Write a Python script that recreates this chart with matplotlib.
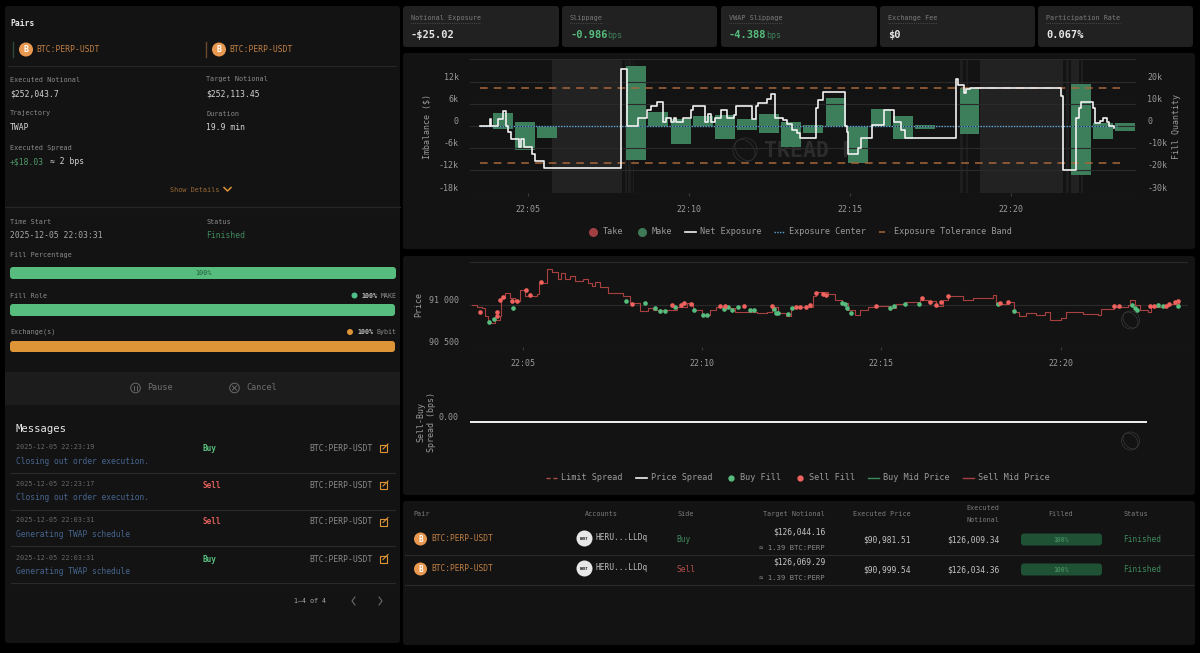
import matplotlib
matplotlib.use('Agg')
import matplotlib.pyplot as plt
from matplotlib.lines import Line2D
from matplotlib.patches import Circle, Ellipse, FancyBboxPatch, Rectangle

plt.rcParams['font.family'] = ['DejaVu Sans Mono', 'Liberation Mono']
plt.rcParams['axes.unicode_minus'] = False

W = 1200
H = 653

# times are minutes after 22:00
# fill quantity bars (right axis), each bar runs from low to high
bar_start = [3.90, 4.59, 5.28, 8.04, 8.73, 9.43, 10.11, 10.80, 11.49, 12.18, 12.87,
             13.55, 14.25, 14.94, 15.64, 16.33, 17.01, 18.40, 21.85, 22.54, 23.22]
bar_high = [6000, 2000, 0, 27000, 6500, 3000, 4500, 5000, 3000, 5400, 2000,
            400, 12500, 0, 7600, 4500, 500, 17000, 18800, 1200, 1400]
bar_low = [-1500, -11000, -5500, -15300, 0, -8000, 0, -6000, -2000, -3000, -9300,
           -3000, 0, -16500, 0, -5800, -1300, -3700, -22000, -6000, -2200]

# net exposure step line in $k
exposure_t = [3.51, 3.82, 3.86, 4.08, 4.21, 4.32, 4.39, 4.47, 4.73, 4.77, 4.88, 5.13, 5.21, 5.51,
              7.89, 8.06, 8.42, 8.71, 8.81, 9.00, 9.20, 9.29, 9.43, 9.53, 9.60, 9.80, 10.05, 10.13,
              10.50, 10.60, 10.68, 10.81, 10.98, 11.17, 11.40, 11.45, 11.97, 12.08, 12.15, 12.43,
              12.54, 12.66, 12.93, 13.03, 13.19, 13.34, 13.45, 13.93, 14.00, 14.15, 14.84, 14.90,
              14.93, 15.26, 15.33, 15.69, 16.07, 16.37, 16.58, 16.70, 18.29, 18.35, 18.54, 18.60,
              18.73, 21.54, 21.62, 22.02, 22.10, 22.16, 22.56, 22.62, 22.76, 22.87, 22.98, 23.03, 23.20]
exposure_k = [0, 2.0, 0, 2.0, 4.0, 0, -1.5, -3.6, -5.6, -3.6, -5.6, -7.5, -9.5, -11.4,
              15.5, 0, 2.2, 4.2, 5.4, 6.4, 1.0, 2.2, 1.0, 2.2, 1.0, 2.2, 4.2, 5.4,
              1.0, 3.2, 1.0, 2.2, 4.4, 2.2, 3.0, 5.4, 2.0, 5.4, 6.3, 7.2,
              8.6, 2.2, 1.5, 0.5, -1.0, -2.0, -3.1, 5.0, 7.0, 9.1, 0, -1.5,
              -7.6, -6.0, -3.1, 0.2, 4.2, 1.1, -1.1, -3.1, 12.6, 11.0, 9.0, 9.9,
              10.3, 8.1, -11.9, 2.1, 4.8, 6.6, 4.8, 0.7, 1.4, 2.1, 1.2, 0, -0.4]

band_high = 10200
band_low = -10000
band_t = [3.51, 23.39]
center_t = [3.51, 23.30]

# grey shaded spans on the exposure chart
shade_spans = [(5.75, 7.91), (19.04, 21.62), (21.85, 22.10)]
shade_thin = [(8.00, 8.07), (8.12, 8.20), (8.26, 8.30), (18.40, 18.52), (18.60, 18.66), (21.72, 21.80), (22.18, 22.24)]

# sell mid price
mid_t = [3.58, 3.72, 3.86, 3.95, 4.04, 4.23, 4.37, 4.40, 4.51, 4.65, 4.79, 4.93, 5.06, 5.39, 5.44,
         5.67, 5.81, 5.99, 6.06, 6.18, 6.32, 6.46, 6.69, 6.83, 6.92, 7.01, 7.15, 7.39, 7.80, 7.99,
         8.27, 8.50, 8.64, 9.06, 9.29, 9.57, 9.75, 9.99, 10.22, 10.40, 10.64, 10.91, 11.24, 11.52,
         11.80, 11.94, 12.12, 12.35, 12.49, 12.63, 12.91, 13.10, 13.19, 13.51, 13.70, 13.89, 14.07,
         14.26, 14.40, 14.63, 14.86, 15.23, 15.42, 15.70, 16.07, 16.30, 16.53, 16.72, 16.86, 17.09,
         17.27, 17.55, 18.11, 18.20, 18.53, 18.71, 18.85, 19.04, 19.32, 19.55, 19.69, 20.01, 20.15,
         20.62, 21.03, 21.13, 21.50, 21.87, 21.92, 22.06, 22.20, 22.43, 22.52, 22.85, 23.03, 23.31]
mid_price = [90992, 90976, 90957, 90858, 90779, 90818, 90858, 91075, 91134, 91075, 91036, 91174, 91095, 91122, 91253,
             91423, 91383, 91304, 91371, 91304, 91332, 91273, 91304, 91253, 91221, 91265, 91205, 91134, 91095, 91016,
             90925, 90957, 90937, 90937, 90976, 91016, 90937, 90878, 90937, 90976, 90964, 90917, 90917, 90897,
             90917, 90976, 90897, 90858, 90957, 90976, 90976, 91095, 91146, 91122, 91055, 91016, 90937,
             90878, 90937, 90976, 90988, 90957, 91004, 91024, 91055, 91036, 90988, 91055, 91095, 91095,
             91055, 91075, 91107, 91004, 91028, 90917, 90858, 90897, 90870, 90909, 90818, 90838, 90917,
             90889, 90878, 90949, 90976, 90996, 91055, 90996, 90937, 90917, 90976, 90988, 91004, 91043]

sell_t = [3.81, 4.29, 4.29, 4.37, 4.46, 4.69, 4.85, 5.09, 5.19, 5.50, 8.05, 9.17, 9.41, 9.50, 9.68, 10.50,
          10.64, 11.17, 11.94, 12.63, 12.73, 12.91, 13.00, 13.17, 13.38, 13.47, 14.84, 16.14, 16.35, 16.53,
          16.67, 16.86, 18.30, 18.53, 21.50, 21.62, 22.49, 22.59, 22.94, 23.01, 23.20, 23.27]
sell_price = [90917, 90917, 90858, 91055, 91083, 91036, 91043, 91166, 91107, 91265, 91004, 90996, 90996, 91012, 91008, 90988,
              90984, 90984, 90984, 90976, 90976, 90968, 90996, 91138, 91122, 91107, 90988, 91075, 91028, 90996,
              91028, 91095, 91016, 91024, 90984, 90984, 90980, 90984, 90988, 91008, 91028, 91036]
buy_t = [4.07, 4.21, 4.73, 7.87, 8.41, 8.70, 8.83, 8.97, 9.25, 9.78, 10.03, 10.13, 10.61, 10.73, 10.83, 10.99,
         11.35, 11.44, 12.00, 12.06, 12.13, 12.40, 12.50, 13.91, 13.98, 14.05, 14.15, 15.23, 15.34, 15.67,
         16.05, 18.26, 18.71, 21.99, 22.06, 22.12, 22.71, 22.85, 23.26]
buy_price = [90795, 90826, 90964, 91043, 91012, 90957, 90925, 90925, 90968, 90933, 90878, 90878, 90949, 90976, 90933, 90976,
             90933, 90933, 90945, 90897, 90905, 90889, 90964, 91012, 91008, 90957, 90897, 90953, 90980, 91008,
             91008, 91008, 90925, 90996, 90964, 90937, 90992, 90984, 90988]

spread_t = [3.53, 22.39]
spread_bps = [0, 0]

time_ticks = [5, 10, 15, 20]
time_labels = ['22:05', '22:10', '22:15', '22:20']
imbalance_ticks = [-18000, -12000, -6000, 0, 6000, 12000]
imbalance_labels = ['-18k', '-12k', '-6k', '0', '6k', '12k']
fill_ticks = [-30000, -20000, -10000, 0, 10000, 20000]
fill_labels = ['-30k', '-20k', '-10k', '0', '10k', '20k']
price_ticks = [90500, 91000, 91500]
price_labels = ['90 500', '91 000', '']

kpi_names = ['Notional Exposure', 'Slippage', 'VWAP Slippage', 'Exchange Fee', 'Participation Rate']
kpi_values = ['-$25.02', '-0.986', '-4.388', '$0', '0.067%']
kpi_units = ['', 'bps', 'bps', '', '']

msg_times = ['2025-12-05 22:23:19', '2025-12-05 22:23:17', '2025-12-05 22:03:31', '2025-12-05 22:03:31']
msg_sides = ['Buy', 'Sell', 'Sell', 'Buy']
msg_texts = ['Closing out order execution.', 'Closing out order execution.',
             'Generating TWAP schedule', 'Generating TWAP schedule']

row_sides = ['Buy', 'Sell']
row_targets = ['$126,044.16', '$126,069.29']
row_prices = ['$90,981.51', '$90,999.54']
row_notionals = ['$126,009.34', '$126,034.36']

GREEN = '#57bd7e'
RED = '#e0605c'
ORANGE = '#dd9538'
COIN = '#e8994f'
LABEL = '#8c8c8c'
VALUE = '#d4d4d4'
GRID = '#2a2a2a'
PANEL = '#131313'


def panel(ax, x0, y0, x1, y1, color=PANEL, r=3):
    ax.add_patch(FancyBboxPatch((x0 + r, y0 + r), x1 - x0 - 2 * r, y1 - y0 - 2 * r,
                                boxstyle='round,pad=%d,rounding_size=%d' % (r, r),
                                fc=color, ec='none'))


def txt(ax, x, y, s, color=LABEL, size=4.9, ha='left', weight='normal'):
    ax.text(x, y, s, color=color, fontsize=size, ha=ha, va='center', fontweight=weight)


def hline(ax, x0, x1, y, color='#262626'):
    ax.plot([x0, x1], [y, y], color=color, lw=0.8)


def coin(ax, x, y, r=7):
    ax.add_patch(Circle((x, y), r, fc=COIN, ec='none'))
    txt(ax, x, y, 'B', '#ffffff', r * 0.85, 'center', 'bold')


def logo(ax, x, y, r, color='#3a3a3a'):
    for w in [1.0, 0.7]:
        ax.add_patch(Ellipse((x, y), 2 * r * w, 2 * r, angle=-40, fc='none', ec=color, lw=0.5))


def make_axes(left, top, right, bottom):
    return fig.add_axes([left / W, 1 - bottom / H, (right - left) / W, (bottom - top) / H])


def style_axes(ax):
    ax.patch.set_visible(False)
    for s in ax.spines.values():
        s.set_visible(False)
    ax.tick_params(axis='y', length=0, labelsize=6, labelcolor='#9a9a9a', pad=8)
    ax.tick_params(axis='x', length=2.5, color='#3a3a3a', labelsize=6, labelcolor='#9a9a9a', pad=6)


fig = plt.figure(figsize=(W / 100, H / 100), dpi=100, facecolor='#000000')

# page layer with all the panels and the plain text
ui = fig.add_axes([0, 0, 1, 1], zorder=0)
ui.set_xlim(0, W)
ui.set_ylim(H, 0)
ui.axis('off')

panel(ui, 5, 6, 400, 643)
panel(ui, 403, 53, 1195, 249)
panel(ui, 403, 256, 1195, 495)
panel(ui, 403, 501, 1195, 645)

# kpi cards
card_left = [403, 562, 721, 880, 1038]
card_right = [559, 717, 877, 1035, 1193]
for i in range(5):
    panel(ui, card_left[i], 6, card_right[i], 47, '#212121')
    x = card_left[i] + 8
    txt(ui, x, 18, kpi_names[i], '#7c7c7c', 4.9)
    ui.plot([x, x + len(kpi_names[i]) * 4.1], [23, 23], color='#666666', lw=0.5, ls=':')
    is_good = kpi_units[i] != ''
    txt(ui, x, 35, kpi_values[i], GREEN if is_good else '#e6e6e6', 7.5, weight='bold')
    if is_good:
        txt(ui, x + len(kpi_values[i]) * 6.25, 36, kpi_units[i], '#3f7f5a', 6)

# left panel, top part
txt(ui, 10, 24, 'Pairs', '#e8e8e8', 5.8, weight='bold')
for x, bar_color in [(12.5, '#2f4a3a'), (205.5, '#6a4a28')]:
    ui.plot([x, x], [42, 57], color=bar_color, lw=1)
    coin(ui, x + 13.5, 49.5)
    txt(ui, x + 24, 49, 'BTC:PERP-USDT', '#c07f45', 5.75)
hline(ui, 8, 396, 66)

txt(ui, 10, 79.5, 'Executed Notional')
txt(ui, 206.5, 79.5, 'Target Notional')
txt(ui, 10, 94, '$252,043.7', VALUE, 5.8)
txt(ui, 206.5, 94, '$252,113.45', VALUE, 5.8)
txt(ui, 10, 113.5, 'Trajectory')
txt(ui, 206.5, 113.5, 'Duration')
txt(ui, 10, 128, 'TWAP', VALUE, 5.8)
txt(ui, 206.5, 128, '19.9 min', VALUE, 5.8)
txt(ui, 10, 148, 'Executed Spread')
txt(ui, 10, 162, '+$18.03', '#4f9a6a', 5.8)
txt(ui, 50, 162, '≈ 2 bps', VALUE, 5.8)
txt(ui, 170, 189.5, 'Show Details', '#9a6a35', 4.9)
ui.plot([224, 227.5, 231], [187.5, 191, 187.5], color=ORANGE, lw=1.1)
hline(ui, 5, 400, 206.5)

txt(ui, 10, 221.5, 'Time Start')
txt(ui, 206.5, 221.5, 'Status')
txt(ui, 10, 236, '2025-12-05 22:03:31', '#a8a8a8', 5.8)
txt(ui, 206.5, 236, 'Finished', '#3f8a5e', 5.8)
txt(ui, 10, 255.5, 'Fill Percentage')
panel(ui, 10, 267, 396, 279, GREEN, 3)
txt(ui, 203, 273, '100%', '#1f5a38', 4.9, 'center')
txt(ui, 10, 295.5, 'Fill Role')
ui.add_patch(Circle((354.5, 295.5), 3, fc='#4fc08a', ec='none'))
txt(ui, 361.5, 295.5, '100%', '#bdbdbd', 4.8, weight='bold')
txt(ui, 381, 295.5, 'MAKE', LABEL, 4.8)
panel(ui, 10, 304, 395, 316, GREEN, 3)
txt(ui, 10, 332, 'Exchange(s)')
ui.add_patch(Circle((350, 332), 3, fc=ORANGE, ec='none'))
txt(ui, 357.5, 332, '100%', '#bdbdbd', 4.8, weight='bold')
txt(ui, 376.5, 332, 'Bybit', LABEL, 4.8)
panel(ui, 10, 341, 395, 352, ORANGE, 3)

# pause and cancel band
ui.add_patch(Rectangle((5, 372), 395, 33, fc='#1c1c1c', ec='none'))
ui.add_patch(Circle((135.5, 388), 4.8, fc='none', ec='#6a6a6a', lw=0.7))
ui.plot([134.3, 134.3], [386, 390], color='#6a6a6a', lw=0.7)
ui.plot([136.7, 136.7], [386, 390], color='#6a6a6a', lw=0.7)
txt(ui, 147, 388, 'Pause', '#6f6f6f', 6.1)
ui.add_patch(Circle((234.5, 388), 4.8, fc='none', ec='#6a6a6a', lw=0.7))
ui.plot([232.5, 236.5], [386, 390], color='#6a6a6a', lw=0.7)
ui.plot([232.5, 236.5], [390, 386], color='#6a6a6a', lw=0.7)
txt(ui, 246, 388, 'Cancel', '#6f6f6f', 6.1)

# messages
txt(ui, 16, 429, 'Messages', '#e8e8e8', 7.6)
msg_y = [447, 484, 520.5, 557.5]
for i in range(4):
    y = msg_y[i]
    txt(ui, 16, y, msg_times[i], '#686868', 4.9)
    side_color = GREEN if msg_sides[i] == 'Buy' else RED
    txt(ui, 202.5, y + 1.5, msg_sides[i], side_color, 5.6, weight='bold')
    txt(ui, 373, y + 1.5, 'BTC:PERP-USDT', '#8a8a8a', 5.75, 'right')
    ui.add_patch(Rectangle((380, y - 2), 7, 7, fc='none', ec=ORANGE, lw=0.8))
    ui.plot([383, 388], [y + 2, y - 3], color=ORANGE, lw=0.8)
    txt(ui, 16, y + 14, msg_texts[i], '#47658f', 5.7)
    hline(ui, 11, 395, y + 25.5, '#2a2a2a')
txt(ui, 294.5, 601, '1–4 of 4', '#a8a8a8', 4.8)
ui.plot([355, 352, 355], [597, 601, 605], color='#6a6a6a', lw=0.8)
ui.plot([379, 382, 379], [597, 601, 605], color='#6a6a6a', lw=0.8)

# watermarks sit behind the charts
logo(ui, 745, 150, 12, '#333333')
txt(ui, 764, 151, 'TREAD FI', '#2c2c2c', 15.5, weight='bold')
logo(ui, 1130.5, 320, 9)
logo(ui, 1130.5, 441, 9)

# table
txt(ui, 413, 514, 'Pair', '#7c7c7c', 4.9)
txt(ui, 585, 514, 'Accounts', '#7c7c7c', 4.9)
txt(ui, 677, 514, 'Side', '#7c7c7c', 4.9)
txt(ui, 825, 514, 'Target Notional', '#7c7c7c', 4.9, 'right')
txt(ui, 911, 514, 'Executed Price', '#7c7c7c', 4.9, 'right')
txt(ui, 999.5, 508.5, 'Executed', '#7c7c7c', 4.9, 'right')
txt(ui, 999.5, 519.5, 'Notional', '#7c7c7c', 4.9, 'right')
txt(ui, 1061, 514, 'Filled', '#7c7c7c', 4.9, 'center')
txt(ui, 1123, 514, 'Status', '#7c7c7c', 4.9)
for i in range(2):
    dy = i * 30
    coin(ui, 420.5, 539 + dy, 6.5)
    txt(ui, 431, 538.5 + dy, 'BTC:PERP-USDT', '#c07f45', 5.7)
    ui.add_patch(Circle((584.5, 538.5 + dy), 8, fc='#e8e8e8', ec='none'))
    txt(ui, 584.5, 538.5 + dy, 'BYBT', '#111111', 2.6, 'center', 'bold')
    txt(ui, 595, 538 + dy, 'HERU...LLDq', '#bcbcbc', 5.7)
    side_color = '#3f8a5e' if row_sides[i] == 'Buy' else '#b5504d'
    txt(ui, 676.5, 540 + dy, row_sides[i], side_color, 5.7)
    txt(ui, 825, 532 + dy, row_targets[i], '#c4c4c4', 5.7, 'right')
    txt(ui, 825, 547.5 + dy, '≈ 1.39 BTC:PERP', '#8a8a8a', 5.2, 'right')
    txt(ui, 911, 540 + dy, row_prices[i], '#c4c4c4', 5.7, 'right')
    txt(ui, 999.5, 540 + dy, row_notionals[i], '#c4c4c4', 5.7, 'right')
    panel(ui, 1021, 533.5 + dy, 1102, 545.5 + dy, '#1f5235', 3)
    txt(ui, 1061, 539.5 + dy, '100%', '#4f9a6a', 4.7, 'center')
    txt(ui, 1123, 539.5 + dy, 'Finished', '#3f8a5e', 5.7)
    hline(ui, 405, 1193, 554.5 + dy, '#2a2a2a')

# exposure chart
ax1 = make_axes(470, 59.4, 1136, 192.7)
ax2 = ax1.twinx()
ax1.set_zorder(3)
ax2.set_zorder(2)
style_axes(ax1)
style_axes(ax2)

for a, b in shade_spans:
    ax2.axvspan(a, b, color='#222222', lw=0, zorder=0)
for a, b in shade_thin:
    ax2.axvspan(a, b, color='#1e1e1e', lw=0, zorder=0)
for tick in imbalance_ticks + [18000]:
    ax1.axhline(tick, color=GRID, lw=0.8, zorder=0)

bar_height = [bar_high[i] - bar_low[i] for i in range(len(bar_high))]
ax2.bar(bar_start, bar_height, width=0.62, bottom=bar_low, align='edge', color='#3d7f5b', lw=0, zorder=2)

ax1.plot(band_t, [band_high, band_high], color='#a8673a', lw=1.1, ls=(0, (5, 4)), zorder=3)
ax1.plot(band_t, [band_low, band_low], color='#a8673a', lw=1.1, ls=(0, (5, 4)), zorder=3)
ax1.plot(center_t, [0, 0], color='#5aa6d6', lw=1, ls=(0, (1, 1)), zorder=4)
ax1.step(exposure_t, [v * 1000 for v in exposure_k], where='post', color='#f2f2f2', lw=1.2, zorder=5)

ax1.set_xlim(3.20, 23.88)
ax1.set_ylim(-18000, 18000)
ax2.set_ylim(-30000, 30000)
ax1.set_xticks(time_ticks)
ax1.set_xticklabels(time_labels)
ax1.set_yticks(imbalance_ticks)
ax1.set_yticklabels(imbalance_labels, va='bottom')
ax2.set_yticks(fill_ticks)
ax2.set_yticklabels(fill_labels, va='bottom')
ax1.set_ylabel('Imbalance ($)', color='#9a9a9a', fontsize=6)
ax1.yaxis.set_label_coords(-0.0585, 0.5)
ax2.set_ylabel('Fill Quantity', color='#9a9a9a', fontsize=6)
ax2.yaxis.set_label_coords(1.054, 0.5)

handles1 = [Line2D([], [], marker='o', ls='', ms=5.5, color='#a13f42', label='Take'),
            Line2D([], [], marker='o', ls='', ms=5.5, color='#3f7a58', label='Make'),
            Line2D([], [], color='#f2f2f2', lw=1.2, label='Net Exposure'),
            Line2D([], [], color='#5aa6d6', lw=1, ls=(0, (1, 1)), label='Exposure Center'),
            Line2D([], [], color='#a8673a', lw=1.1, ls=(0, (4, 3)), label='Exposure Tolerance Band')]
leg1 = ax1.legend(handles=handles1, loc='center', bbox_to_anchor=(800 / W, 1 - 232 / H),
                  bbox_transform=fig.transFigure, ncol=5, frameon=False, fontsize=6.1,
                  labelcolor='#9a9a9a', columnspacing=1.5, handlelength=1.3, handletextpad=0.5)

# price chart
ax3 = make_axes(470, 262.3, 1188, 346.7)
style_axes(ax3)
for tick in price_ticks:
    ax3.axhline(tick, color=GRID, lw=0.8, zorder=0)
ax3.step(mid_t, mid_price, where='post', color='#a8403f', lw=0.8, zorder=2)
ax3.scatter(buy_t, buy_price, s=11, color=GREEN, lw=0, zorder=3)
ax3.scatter(sell_t, sell_price, s=11, color='#f0625e', lw=0, zorder=3)
ax3.set_xlim(3.53, 23.55)
ax3.set_ylim(90500, 91500)
ax3.set_xticks(time_ticks)
ax3.set_xticklabels(time_labels)
ax3.set_yticks(price_ticks)
ax3.set_yticklabels(price_labels, va='bottom')
ax3.set_ylabel('Price', color='#9a9a9a', fontsize=6)
ax3.yaxis.set_label_coords(-0.0655, 0.5)

# spread chart
ax4 = make_axes(470, 385, 1188, 459)
style_axes(ax4)
ax4.plot(spread_t, spread_bps, color='#f2f2f2', lw=1.4, zorder=3)
ax4.set_xlim(3.53, 23.55)
ax4.set_ylim(-1, 1)
ax4.set_xticks([])
ax4.set_yticks([0])
ax4.set_yticklabels(['0.00'], va='bottom')
ax4.set_ylabel('Sell-Buy\nSpread (bps)', color='#9a9a9a', fontsize=6, linespacing=1.2)
ax4.yaxis.set_label_coords(-0.047, 0.5)

handles2 = [Line2D([], [], color='#a8503f', lw=1, ls=(0, (3, 2)), label='Limit Spread'),
            Line2D([], [], color='#f2f2f2', lw=1.2, label='Price Spread'),
            Line2D([], [], marker='o', ls='', ms=3.5, color=GREEN, label='Buy Fill'),
            Line2D([], [], marker='o', ls='', ms=3.5, color='#f0625e', label='Sell Fill'),
            Line2D([], [], color='#3f8a5e', lw=1, label='Buy Mid Price'),
            Line2D([], [], color='#a8403f', lw=1, label='Sell Mid Price')]
ax4.legend(handles=handles2, loc='center', bbox_to_anchor=(798 / W, 1 - 478 / H),
           bbox_transform=fig.transFigure, ncol=6, frameon=False, fontsize=6.1,
           labelcolor='#9a9a9a', columnspacing=1.5, handlelength=1.3, handletextpad=0.5)

fig.savefig('out.png', dpi=100, facecolor=fig.get_facecolor())
